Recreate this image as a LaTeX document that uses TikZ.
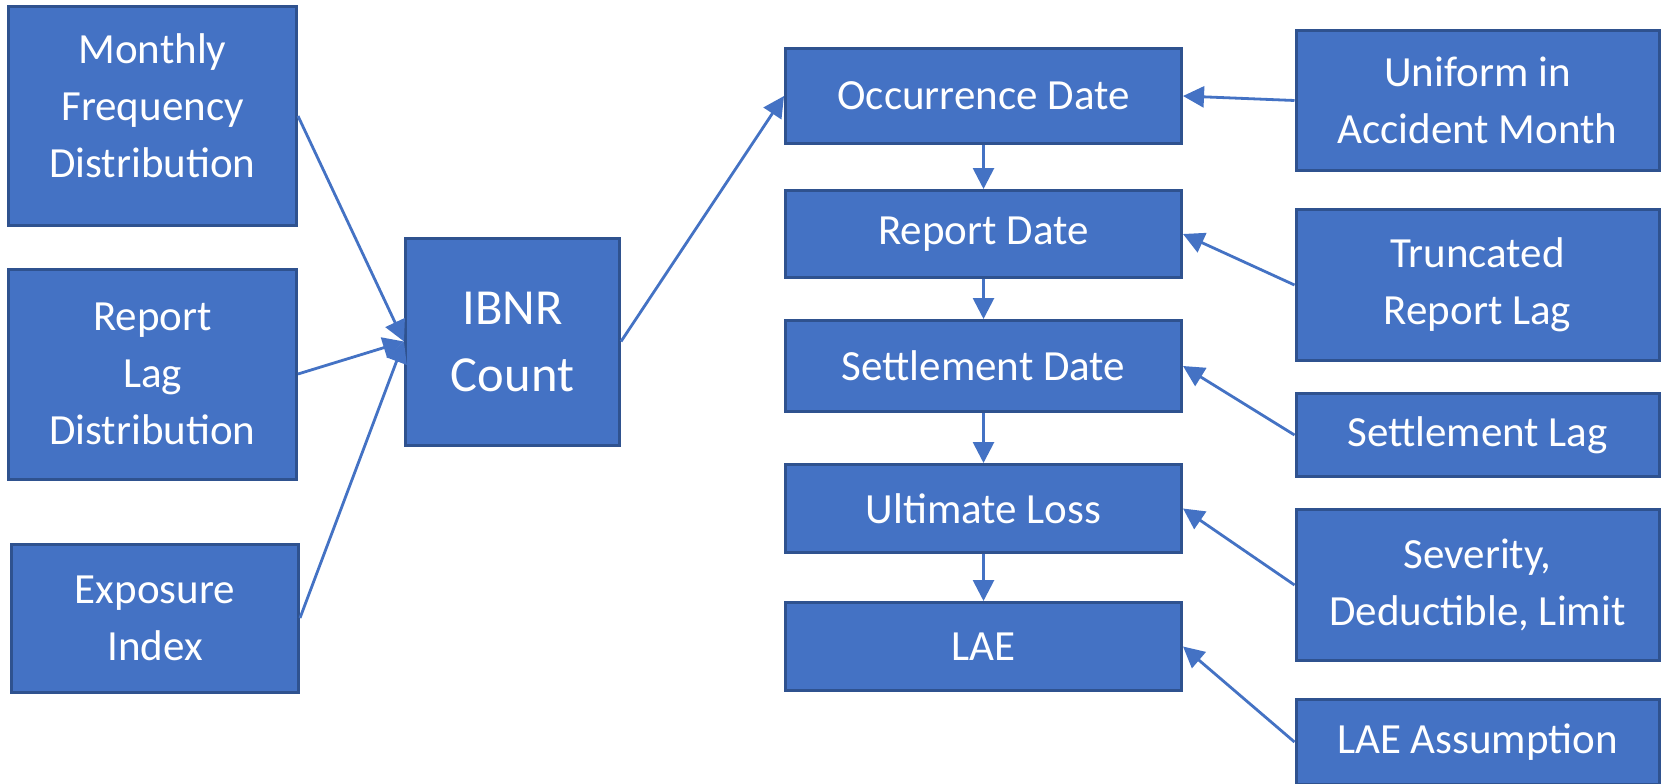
\documentclass[tikz,border=0pt]{standalone}
\usepackage{fontspec}
\setmainfont{Carlito}
\usetikzlibrary{arrows.meta}
\definecolor{boxfill}{HTML}{4472C4}
\definecolor{boxline}{HTML}{2F528F}
\definecolor{arrowcol}{HTML}{4472C4}
\tikzset{
  bx/.style={draw=boxline, fill=boxfill, line width=3pt, text=white, align=center,
    inner sep=0pt, font=\fontsize{43}{57}\selectfont},
  conn/.style={draw=arrowcol, line width=2.8pt, -{Triangle[length=21pt,width=21pt]}}
}
\begin{document}
\begin{tikzpicture}[x=1pt,y=-1pt]
\clip (0,0) rectangle (1665,784);
\fill[white] (0,0) rectangle (1665,784);
% left column
\node[bx, minimum width=288pt, minimum height=218pt] (mon) at (152.5,116) {\raisebox{7pt}[\height][\depth]{\begin{tabular}{@{}c@{}}Monthly\\Frequency\\Distribution\end{tabular}}};
\node[bx, minimum width=288pt, minimum height=210pt] (rlag) at (152.5,374) {Report\\Lag\\Distribution};
\node[bx, minimum width=287pt, minimum height=148pt] (expo) at (155,618) {Exposure\\Index};
% IBNR
\node[bx, minimum width=214pt, minimum height=207pt, font=\fontsize{50.5}{67}\selectfont] (ibnr) at (512.5,341.5) {IBNR\\Count};
% middle column
\node[bx, minimum width=396pt, minimum height=95pt] (occ) at (983.5,96) {Occurrence Date};
\node[bx, minimum width=396pt, minimum height=87pt] (rep) at (983.5,234) {Report Date};
\node[bx, minimum width=396pt, minimum height=91pt] (set) at (983.5,366) {Settlement Date};
\node[bx, minimum width=396pt, minimum height=88pt] (ult) at (983.5,508.5) {Ultimate Loss};
\node[bx, minimum width=396pt, minimum height=88pt] (lae) at (983.5,646.5) {LAE};
% right column
\node[bx, minimum width=363pt, minimum height=140pt] (uni) at (1477.5,100.5) {Uniform in\\Accident Month};
\node[bx, minimum width=363pt, minimum height=151pt] (trunc) at (1477.5,285) {Truncated\\Report Lag};
\node[bx, minimum width=363pt, minimum height=83pt] (slag) at (1477.5,435) {Settlement Lag};
\node[bx, minimum width=363pt, minimum height=151pt] (sev) at (1477.5,585) {Severity,\\Deductible, Limit};
\node[bx, minimum width=363pt, minimum height=85pt] (laea) at (1477.5,742) {LAE Assumption};
% connectors
\draw[conn] (mon.east) -- (ibnr.west);
\draw[conn] (rlag.east) -- (ibnr.west);
\draw[conn] (expo.east) -- (ibnr.west);
\draw[conn] (ibnr.east) -- (occ.west);
\draw[conn] (occ.south) -- (rep.north);
\draw[conn] (rep.south) -- (set.north);
\draw[conn] (set.south) -- (ult.north);
\draw[conn] (ult.south) -- (lae.north);
\draw[conn] (uni.west) -- (occ.east);
\draw[conn] (trunc.west) -- (rep.east);
\draw[conn] (slag.west) -- (set.east);
\draw[conn] (sev.west) -- (ult.east);
\draw[conn] (laea.west) -- (lae.east);
\end{tikzpicture}
\end{document}
